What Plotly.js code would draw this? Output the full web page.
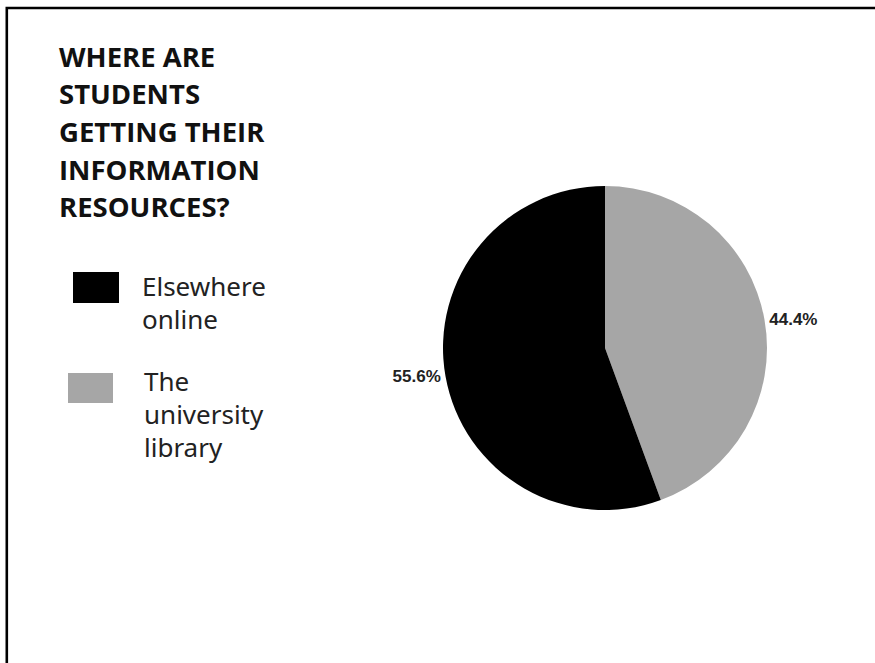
<!DOCTYPE html>
<html>
<head>
<meta charset="utf-8">
<script src="https://cdn.plot.ly/plotly-3.0.1.min.js"></script>
<style>
  html, body { margin: 0; padding: 0; background: #ffffff; }
  #chart { width: 875px; height: 663px; }
</style>
</head>
<body>
<div id="chart"></div>
<script>
// ---- data ----
const categories = ["Elsewhere online", "The university library"];
const shares = [55.6, 44.4];
const sliceColors = ["#000000", "#a6a6a6"];
const legendLines = [["Elsewhere", "online"], ["The", "university", "library"]];
const titleLines = ["WHERE ARE", "STUDENTS", "GETTING THEIR", "INFORMATION", "RESOURCES?"];

// ---- layout helpers (pixel -> paper) ----
const W = 875, H = 663;
const px = x => x / W;
const py = y => 1 - y / H;

const cx = 605, cy = 348, R = 162;

// slices drawn clockwise from 12 o'clock, library first so it sits on the right
const order = [1, 0];
const trace = {
  type: "pie",
  labels: order.map(i => categories[i]),
  values: order.map(i => shares[i]),
  sort: false,
  direction: "clockwise",
  rotation: 0,
  marker: { colors: order.map(i => sliceColors[i]), line: { width: 0 } },
  textinfo: "percent",
  texttemplate: "%{value:.1f}%",
  textposition: "outside",
  outsidetextfont: { family: "Liberation Sans, Arial, sans-serif", size: 17, color: "#222222", weight: "bold" },
  hoverinfo: "none",
  showlegend: false,
  domain: { x: [px(cx - R), px(cx + R)], y: [py(cy + R), py(cy - R)] }
};

const annotations = [];
const titleTop = 56, titleStep = 37.7;
titleLines.forEach((t, i) => {
  annotations.push({
    xref: "paper", yref: "paper", x: px(57), y: py(titleTop + i * titleStep),
    xanchor: "left", yanchor: "middle", showarrow: false, text: t,
    font: { family: "Open Sans, sans-serif", size: 27.5, color: "#111111", weight: "bold" }
  });
});

const legendSwatches = [[73, 272, 119, 303], [68, 373, 113, 403]];
const legendTextX = [140, 142];
const legendStart = [286, 381];
const legendStep = 33;
const shapes = [];
legendLines.forEach((lines, k) => {
  const s = legendSwatches[k];
  shapes.push({
    type: "rect", xref: "paper", yref: "paper",
    x0: px(s[0]), x1: px(s[2]), y0: py(s[3]), y1: py(s[1]),
    fillcolor: sliceColors[k], line: { width: 0 }
  });
  lines.forEach((t, i) => {
    annotations.push({
      xref: "paper", yref: "paper", x: px(legendTextX[k]), y: py(legendStart[k] + i * legendStep),
      xanchor: "left", yanchor: "middle", showarrow: false, text: t,
      font: { family: "Noto Sans, sans-serif", size: 26, color: "#222222" }
    });
  });
});

// frame border (top and left edges visible, rest cropped)
shapes.push({
  type: "rect", xref: "paper", yref: "paper",
  x0: px(6.8), x1: px(W + 20), y0: py(H + 20), y1: py(8),
  line: { color: "#000000", width: 2.6 }, fillcolor: "rgba(0,0,0,0)"
});

const layout = {
  width: W, height: H,
  margin: { l: 0, r: 0, t: 0, b: 0 },
  paper_bgcolor: "#ffffff",
  plot_bgcolor: "#ffffff",
  showlegend: false,
  annotations: annotations,
  shapes: shapes
};

Plotly.newPlot("chart", [trace], layout, { displayModeBar: false, staticPlot: true });
</script>
</body>
</html>
